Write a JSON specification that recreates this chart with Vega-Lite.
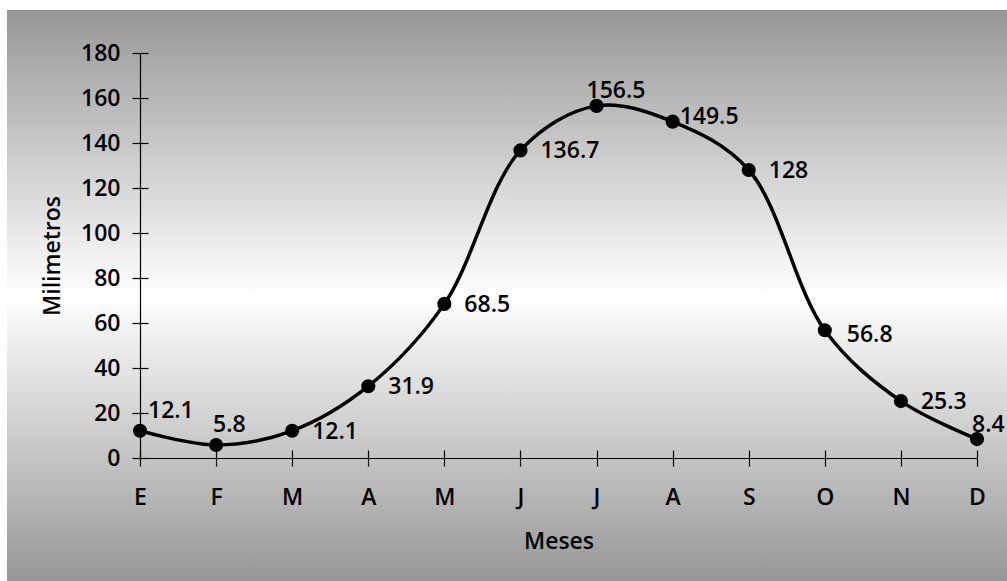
{
  "$schema": "https://vega.github.io/schema/vega-lite/v6.json",
  "width": 837,
  "height": 405,
  "autosize": {"type": "none"},
  "padding": {"left": 140, "top": 53, "right": 30, "bottom": 123},
  "background": "white",
  "config": {
    "view": {"stroke": null},
    "font": "Open Sans",
    "axis": {
      "grid": false,
      "domainColor": "#000000",
      "tickColor": "#000000",
      "domainWidth": 1.2,
      "tickWidth": 1.2,
      "labelFont": "Open Sans",
      "labelFontSize": 23,
      "labelFontWeight": 600,
      "labelColor": "#000000",
      "titleFont": "Open Sans",
      "titleFontSize": 23,
      "titleFontWeight": 600,
      "titleColor": "#000000"
    }
  },
  "data": {
    "values": [
      {"mes": "Ene", "mm": 12.1},
      {"mes": "Feb", "mm": 5.8},
      {"mes": "Mar", "mm": 12.1},
      {"mes": "Abr", "mm": 31.9},
      {"mes": "May", "mm": 68.5},
      {"mes": "Jun", "mm": 136.7},
      {"mes": "Jul", "mm": 156.5},
      {"mes": "Ago", "mm": 149.5},
      {"mes": "Sep", "mm": 128},
      {"mes": "Oct", "mm": 56.8},
      {"mes": "Nov", "mm": 25.3},
      {"mes": "Dic", "mm": 8.4}
    ]
  },
  "layer": [
    {
      "data": {"values": [{}]},
      "mark": {
        "type": "rect",
        "fill": {
          "gradient": "linear",
          "x1": 0, "y1": 0, "x2": 0, "y2": 1,
          "stops": [
            {"offset": 0, "color": "#979797"},
            {"offset": 0.5, "color": "#ffffff"},
            {"offset": 1, "color": "#979797"}
          ]
        }
      },
      "encoding": {
        "x": {"value": -133},
        "x2": {"value": 867},
        "y": {"value": -43},
        "y2": {"value": 528}
      }
    },
    {
      "mark": {"type": "line", "color": "#000000", "strokeWidth": 3.5, "interpolate": "catmull-rom"},
      "encoding": {
        "x": {
          "field": "mes", "type": "ordinal", "sort": null,
          "scale": {"type": "point", "padding": 0},
          "axis": {
            "orient": "bottom", "title": "Meses", "labelAngle": 0, "zindex": 1,
            "labelExpr": "substring(datum.label, 0, 1)",
            "tickSize": 8, "labelPadding": 20, "titlePadding": 21
          }
        },
        "y": {
          "field": "mm", "type": "quantitative",
          "scale": {"domain": [0, 180], "nice": false},
          "axis": {
            "orient": "left", "title": "Milimetros", "zindex": 1,
            "values": [0, 20, 40, 60, 80, 100, 120, 140, 160, 180],
            "tickSize": 8, "labelPadding": 12, "titlePadding": 16
          }
        }
      }
    },
    {
      "transform": [{"filter": "datum.mes != 'Ene' && datum.mes != 'Feb' && datum.mes != 'Jul' && datum.mes != 'Ago' && datum.mes != 'Dic' && datum.mes != 'Oct'"}],
      "mark": {"type": "text", "align": "left", "baseline": "middle", "dx": 20, "dy": 1, "fontSize": 23, "fontWeight": 600, "color": "#000000"},
      "encoding": {
        "x": {"field": "mes", "type": "ordinal", "sort": null, "axis": null},
        "y": {"field": "mm", "type": "quantitative", "axis": null},
        "text": {"field": "mm", "type": "nominal"}
      }
    },
    {
      "transform": [{"filter": "datum.mes == 'Oct'"}],
      "mark": {"type": "text", "align": "left", "baseline": "middle", "dx": 22, "dy": 5, "fontSize": 23, "fontWeight": 600, "color": "#000000"},
      "encoding": {
        "x": {"field": "mes", "type": "ordinal", "sort": null, "axis": null},
        "y": {"field": "mm", "type": "quantitative", "axis": null},
        "text": {"field": "mm", "type": "nominal"}
      }
    },
    {
      "transform": [{"filter": "datum.mes == 'Ene'"}],
      "mark": {"type": "text", "align": "left", "baseline": "middle", "dx": 8, "dy": -20, "fontSize": 23, "fontWeight": 600, "color": "#000000"},
      "encoding": {
        "x": {"field": "mes", "type": "ordinal", "sort": null, "axis": null},
        "y": {"field": "mm", "type": "quantitative", "axis": null},
        "text": {"field": "mm", "type": "nominal"}
      }
    },
    {
      "transform": [{"filter": "datum.mes == 'Feb'"}],
      "mark": {"type": "text", "align": "left", "baseline": "middle", "dx": -3, "dy": -20, "fontSize": 23, "fontWeight": 600, "color": "#000000"},
      "encoding": {
        "x": {"field": "mes", "type": "ordinal", "sort": null, "axis": null},
        "y": {"field": "mm", "type": "quantitative", "axis": null},
        "text": {"field": "mm", "type": "nominal"}
      }
    },
    {
      "transform": [{"filter": "datum.mes == 'Jul'"}],
      "mark": {"type": "text", "align": "left", "baseline": "middle", "dx": -10, "dy": -15, "fontSize": 23, "fontWeight": 600, "color": "#000000"},
      "encoding": {
        "x": {"field": "mes", "type": "ordinal", "sort": null, "axis": null},
        "y": {"field": "mm", "type": "quantitative", "axis": null},
        "text": {"field": "mm", "type": "nominal"}
      }
    },
    {
      "transform": [{"filter": "datum.mes == 'Ago'"}],
      "mark": {"type": "text", "align": "left", "baseline": "middle", "dx": 7, "dy": -5, "fontSize": 23, "fontWeight": 600, "color": "#000000"},
      "encoding": {
        "x": {"field": "mes", "type": "ordinal", "sort": null, "axis": null},
        "y": {"field": "mm", "type": "quantitative", "axis": null},
        "text": {"field": "mm", "type": "nominal"}
      }
    },
    {
      "transform": [{"filter": "datum.mes == 'Dic'"}],
      "mark": {"type": "text", "align": "left", "baseline": "middle", "dx": -5, "dy": -14, "fontSize": 23, "fontWeight": 600, "color": "#000000"},
      "encoding": {
        "x": {"field": "mes", "type": "ordinal", "sort": null, "axis": null},
        "y": {"field": "mm", "type": "quantitative", "axis": null},
        "text": {"field": "mm", "type": "nominal"}
      }
    },
    {
      "mark": {"type": "circle", "color": "#000000", "opacity": 1, "size": 200},
      "encoding": {
        "x": {
          "field": "mes", "type": "ordinal", "sort": null,
          "axis": {"orient": "bottom", "labels": false, "domain": false, "title": null, "tickSize": -8, "zindex": 1}
        },
        "y": {
          "field": "mm", "type": "quantitative",
          "axis": {"orient": "left", "labels": false, "domain": false, "title": null, "tickSize": -8, "zindex": 1, "values": [0, 20, 40, 60, 80, 100, 120, 140, 160, 180]}
        }
      }
    }
  ],
  "resolve": {"axis": {"x": "independent", "y": "independent"}}
}
